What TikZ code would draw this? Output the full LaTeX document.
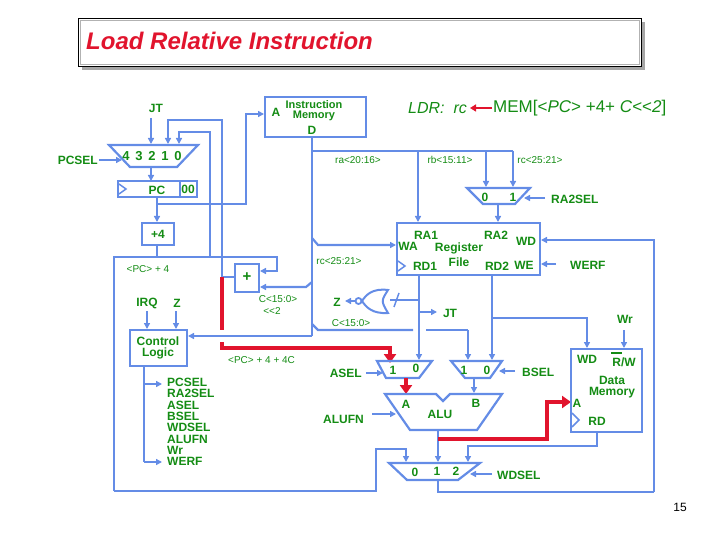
\documentclass[tikz,border=0pt]{standalone}
\usepackage{fontspec}
\setmainfont{Liberation Sans}
\usetikzlibrary{arrows.meta}
\definecolor{bl}{RGB}{100,140,230}
\definecolor{gr}{RGB}{20,140,20}
\definecolor{rd}{RGB}{225,20,45}
\begin{document}
\begin{tikzpicture}[x=1pt,y=-1pt,
  w/.style={draw=bl,line width=2.2pt},
  a/.style={w,-{Triangle[length=6pt,width=6pt]}},
  r/.style={draw=rd,line width=4.5pt},
  ra/.style={r,-{Triangle[length=9pt,width=12pt]}},
  L/.style={text=gr,font=\fontsize{12}{12}\selectfont\bfseries,inner sep=0pt},
  S/.style={text=gr,font=\fontsize{10}{10}\selectfont,inner sep=0pt},
  box/.style={w,fill=white,inner sep=0pt}]
\useasboundingbox (0,0) rectangle (720,540);
% title
\fill[gray!70] (82,22) rectangle (645,70);
\draw[fill=white,line width=0.8pt] (78,18) rectangle (641,66);
\draw[gray!60,line width=0.6pt] (80,20) rectangle (639,64);
\node[anchor=west,text=rd,font=\fontsize{24}{24}\selectfont\bfseries\itshape,inner sep=0pt] (title) at (86,41) {Load Relative Instruction};
% formula
\node[anchor=west,text=gr,font=\fontsize{16}{16}\selectfont\itshape,inner sep=0pt] (ldr) at (408,108) {LDR:\ \ rc};
\coordinate (arrs) at (492,108);
\coordinate (arre) at (470,108);
\draw[draw=rd,line width=2.5pt,-{Triangle[length=6pt,width=7pt]}] (arrs) -- (arre);
\node[anchor=west,text=gr,font=\fontsize{17}{17}\selectfont,inner sep=0pt] (mem) at (493,108) {MEM[<\textit{PC}> +4+ \textit{C}{<}{<}\textit{2}]};
% instruction memory
\draw[box] (265,97) rectangle (366,137);
\node[L] (ima) at (276,112) {A};
\node[L,align=center,font=\fontsize{11}{10}\selectfont\bfseries] (imt) at (314,111) {Instruction\\Memory};
\node[L] (imd) at (312,130) {D};
% PC mux
\draw[w] (109,145) -- (198,145) -- (177,167) -- (130,167) -- cycle;
\node[L,font=\fontsize{13}{13}\selectfont\bfseries] (pcm) at (152,156) {4\ \,3\ \,2\ \,1\ \,0};
\node[L,anchor=east] (pcsel) at (98,160) {PCSEL};
\coordinate (pcseli) at (122,160);
\draw[a] (pcsel.east) ++(1,0) -- (pcseli);
\node[L] (jt1) at (156,108) {JT};
\coordinate (jtin) at (151,144);
\draw[a] (151,118) -- (jtin);
% PC register
\draw[box] (118,181) rectangle (197,197);
\draw[w] (180,181) -- (180,197);
\draw[bl,line width=1.5pt] (119,184) -- (126,189) -- (119,194);
\node[L] (pc) at (157,190) {PC};
\node[L] (zz) at (188,189) {00};
\draw[a] (151,167) -- (151,181);
% PC outputs
\draw[a] (157,197) -- (157,222);
\draw[a] (157,204) -- (246,204) -- (246,114) -- (264,114);
% +4
\draw[box] (142,223) rectangle (174,245);
\node[L] (p4) at (158,234) {+4};
\draw[w] (157,245) -- (157,257);
\draw[w] (114,491) -- (114,257) -- (210,257) -- (210,132) -- (179,132);
\draw[a] (179,131) -- (179,144);
\draw[a] (210,257) -- (277,257) -- (277,271) -- (260,271);
\node[S] (pc4) at (148,269) {<PC> + 4};
% adder
\draw[box] (235,264) rectangle (259,292);
\node[L,font=\fontsize{15}{15}\selectfont\bfseries] (add) at (247,277) {+};
\draw[w] (235,277) -- (222,277);
\draw[w] (222,277) -- (222,120) -- (168,120);
\draw[a] (168,119) -- (168,144);
\draw[r] (222,277) -- (222,330);
\draw[ra] (222,342) -- (222,348) -- (390,348) -- (390,363);
\node[S,anchor=west] (pc44c) at (228,360) {<PC> + 4 + 4C};
\node[S] (c150a) at (278,299) {C<15:0>};
\node[S] (sl2) at (272,311) {{<}{<}2};
% D bus
\draw[w] (312,137) -- (312,336);
\draw[a] (312,336) -- (188,336);
\draw[w] (312,151) -- (513,151);
\draw[a] (418,151) -- (418,222);
\draw[a] (486,151) -- (486,187);
\draw[a] (513,151) -- (513,187);
\draw[a] (312,238) -- (318,245) -- (396,245);
\draw[a] (312,282) -- (306,287) -- (260,287);
\draw[w] (312,324) -- (318,330) -- (413,330);
\draw[w] (426,330) -- (468,330);
\draw[a] (468,330) -- (468,360);
\node[S] (ral) at (358,160) {ra<20:16>};
\node[S] (rbl) at (450,160) {rb<15:11>};
\node[S] (rcl) at (540,160) {rc<25:21>};
\node[S] (rcl2) at (339,261) {rc<25:21>};
\node[S] (c150b) at (351,323) {C<15:0>};
% RA2SEL mux
\draw[w] (467,188) -- (530,188) -- (515,204) -- (483,204) -- cycle;
\node[L] (m0) at (485,197) {0};
\node[L] (m1) at (513,197) {1};
\node[L,anchor=west] (ra2sel) at (551,199) {RA2SEL};
\draw[a] (545,198) -- (524,198);
\draw[a] (498,204) -- (498,222);
% register file
\draw[box] (397,223) rectangle (540,275);
\draw[bl,line width=1.5pt] (398,261) -- (405,266) -- (398,271);
\node[L] (ra1) at (426,235) {RA1};
\node[L] (ra2) at (496,235) {RA2};
\node[L] (wd) at (526,241) {WD};
\node[L] (wa) at (408,246) {WA};
\node[L] (reg) at (459,248) {Register};
\node[L] (file) at (459,262) {File};
\node[L] (rd1) at (425,266) {RD1};
\node[L] (rd2) at (497,266) {RD2};
\node[L] (we) at (524,265) {WE};
\node[L,anchor=west] (werf) at (570,265) {WERF};
\draw[a] (556,264) -- (541,264);
\draw[a] (654,492) -- (654,240) -- (541,240);
% RD1
\draw[a] (419,275) -- (419,360);
\draw[w] (419,300) -- (390,300);
\draw[bl,line width=1.5pt] (394,307) -- (399,293);
\draw[a] (419,312) -- (437,312);
\node[L] (jt2) at (450,313) {JT};
% OR gate
\draw[bl,line width=2pt,fill=white] (388,290) .. controls (381,301) .. (388,313) .. controls (372,314) and (366,307) .. (362,301) .. controls (366,295) and (372,288) .. (388,290) -- cycle;
\draw[bl,line width=1.8pt] (358.5,301) circle (3);
\draw[a] (355,301) -- (345,301);
\node[L] (z2) at (337,302) {Z};
% RD2
\draw[a] (492,275) -- (492,360);
\draw[a] (492,318) -- (587,318) -- (587,348);
% ASEL mux
\draw[w] (377,361) -- (432,361) -- (419,378) -- (386,378) -- cycle;
\node[L] (a1) at (393,370) {1};
\node[L] (a0) at (416,368) {0};
\node[L,anchor=east] (asel) at (362,373) {ASEL};
\draw[a] (366,373) -- (383,373);
\draw[ra] (406,378) -- (406,394);
% BSEL mux
\draw[w] (451,361) -- (502,361) -- (490,378) -- (465,378) -- cycle;
\node[L] (b1) at (464,370) {1};
\node[L] (b0) at (487,370) {0};
\node[L,anchor=west] (bsel) at (522,372) {BSEL};
\draw[a] (515,371) -- (499,371);
\draw[a] (474,378) -- (474,393);
% ALU
\draw[box] (385,394) -- (436,394) -- (443,401) -- (450,394) -- (502,394) -- (477,430) -- (410,430) -- cycle;
\node[L] (alua) at (406,404) {A};
\node[L] (alub) at (476,403) {B};
\node[L] (alu) at (440,414) {ALU};
\node[L,anchor=east] (alufn) at (364,419) {ALUFN};
\draw[a] (372,414) -- (396,414);
\draw[a] (438,430) -- (438,462);
\draw[ra] (438,439) -- (547,439) -- (547,402) -- (571,402);
% WDSEL mux
\draw[w] (389,463) -- (480,463) -- (458,480) -- (407,480) -- cycle;
\node[L] (w0) at (415,472) {0};
\node[L] (w1) at (437,471) {1};
\node[L] (w2) at (456,471) {2};
\node[L,anchor=west] (wdsel) at (497,475) {WDSEL};
\draw[a] (492,474) -- (470,474);
\draw[a] (114,491) -- (376,491) -- (376,449) -- (406,449) -- (406,462);
\draw[w] (438,480) -- (438,492) -- (654,492);
\draw[a] (597,432) -- (597,446) -- (468,446) -- (468,462);
% data memory
\draw[box] (571,349) rectangle (642,432);
\draw[bl,line width=1.5pt] (572,413) -- (579,420) -- (572,427);
\node[L] (dwd) at (587,359) {WD};
\node[L] (rw) at (624,362) {R/W};
\draw[gr,line width=1.5pt] (611,353) -- (622,353);
\node[L,align=center,font=\fontsize{12}{11}\selectfont\bfseries] (dm) at (612,387) {Data\\Memory};
\node[L] (dma) at (577,403) {A};
\node[L] (drd) at (597,421) {RD};
\node[L] (wr) at (625,319) {Wr};
\draw[a] (624,330) -- (624,348);
% control logic
\draw[box] (130,330) rectangle (187,366);
\node[L,align=center,font=\fontsize{12}{11.5}\selectfont\bfseries] (cl) at (158,348) {Control\\Logic};
\node[L] (irq) at (147,303) {IRQ};
\node[L] (z1) at (177,303) {Z};
\draw[a] (147,311) -- (147,329);
\draw[a] (176,311) -- (176,329);
\draw[w] (144,366) -- (144,462);
\draw[a] (144,384) -- (162,384);
\draw[a] (144,462) -- (162,462);
\node[L,anchor=north west,align=left,font=\fontsize{12}{11.3}\selectfont\bfseries] (sigs) at (167,378) {PCSEL\\RA2SEL\\ASEL\\BSEL\\WDSEL\\ALUFN\\Wr\\WERF};
\node[anchor=center,font=\fontsize{12}{12}\selectfont,inner sep=0pt] (pg) at (680,507) {15};
\end{tikzpicture}
\end{document}
